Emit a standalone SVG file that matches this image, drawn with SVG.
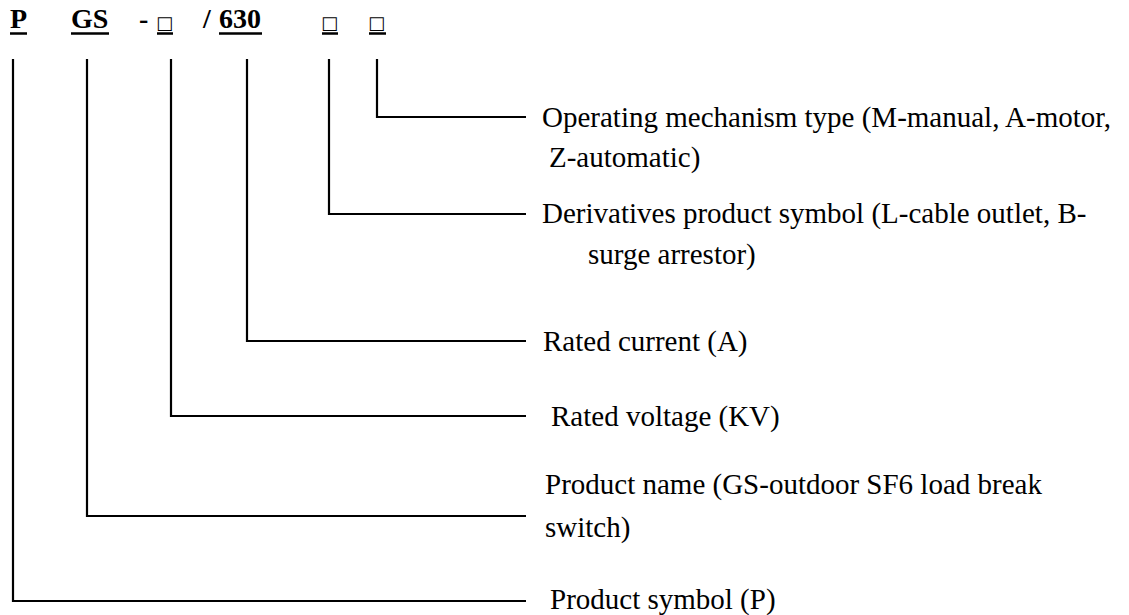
<svg xmlns="http://www.w3.org/2000/svg" width="1129" height="615" viewBox="0 0 1129 615">
<style>
.code{font-family:"Liberation Serif","Times New Roman",serif;font-size:28px;font-weight:bold;fill:#000}
.box{font-family:"DejaVu Sans",sans-serif;font-size:18px;fill:#000}
.lbl{font-family:"Liberation Serif","Times New Roman",serif;font-size:29px;fill:#000}
.ul{stroke:#000;stroke-width:2.5;fill:none}
.conn{stroke:#000;stroke-width:2.2;fill:none}
</style>
<rect width="1129" height="615" fill="#fff"/>
<g id="code">
<text class="code" x="10" y="28">P</text>
<text class="code" x="71" y="28">GS</text>
<text class="code" x="139" y="28">-</text>
<text class="box" x="156" y="29">□</text>
<text class="code" x="203" y="28">/</text>
<text class="code" x="219" y="28">630</text>
<text class="box" x="321" y="29">□</text>
<text class="box" x="368" y="29">□</text>
<path class="ul" d="M10 33.5H27M71 33.5H109M157 33.5H173M219 33.5H262M322 33.5H338M369 33.5H386"/>
</g>
<g id="connectors">
<path class="conn" d="M377 59V117H526"/>
<path class="conn" d="M329 59V214H526"/>
<path class="conn" d="M247 59V341H526"/>
<path class="conn" d="M171 59V416H526"/>
<path class="conn" d="M87 59V516H526"/>
<path class="conn" d="M13 59V601H526"/>
</g>
<g id="operating">
<text class="lbl" x="542" y="127">Operating mechanism type (M-manual, A-motor,</text>
<text class="lbl" x="549" y="167">Z-automatic)</text>
</g>
<g id="derivatives">
<text class="lbl" x="542" y="223">Derivatives product symbol (L-cable outlet, B-</text>
<text class="lbl" x="588" y="264">surge arrestor)</text>
</g>
<g id="current">
<text class="lbl" x="543" y="351">Rated current (A)</text>
</g>
<g id="voltage">
<text class="lbl" x="551" y="426">Rated voltage (KV)</text>
</g>
<g id="name">
<text class="lbl" x="545" y="494">Product name (GS-outdoor SF6 load break</text>
<text class="lbl" x="545" y="537">switch)</text>
</g>
<g id="symbol">
<text class="lbl" x="550" y="609">Product symbol (P)</text>
</g>
</svg>
